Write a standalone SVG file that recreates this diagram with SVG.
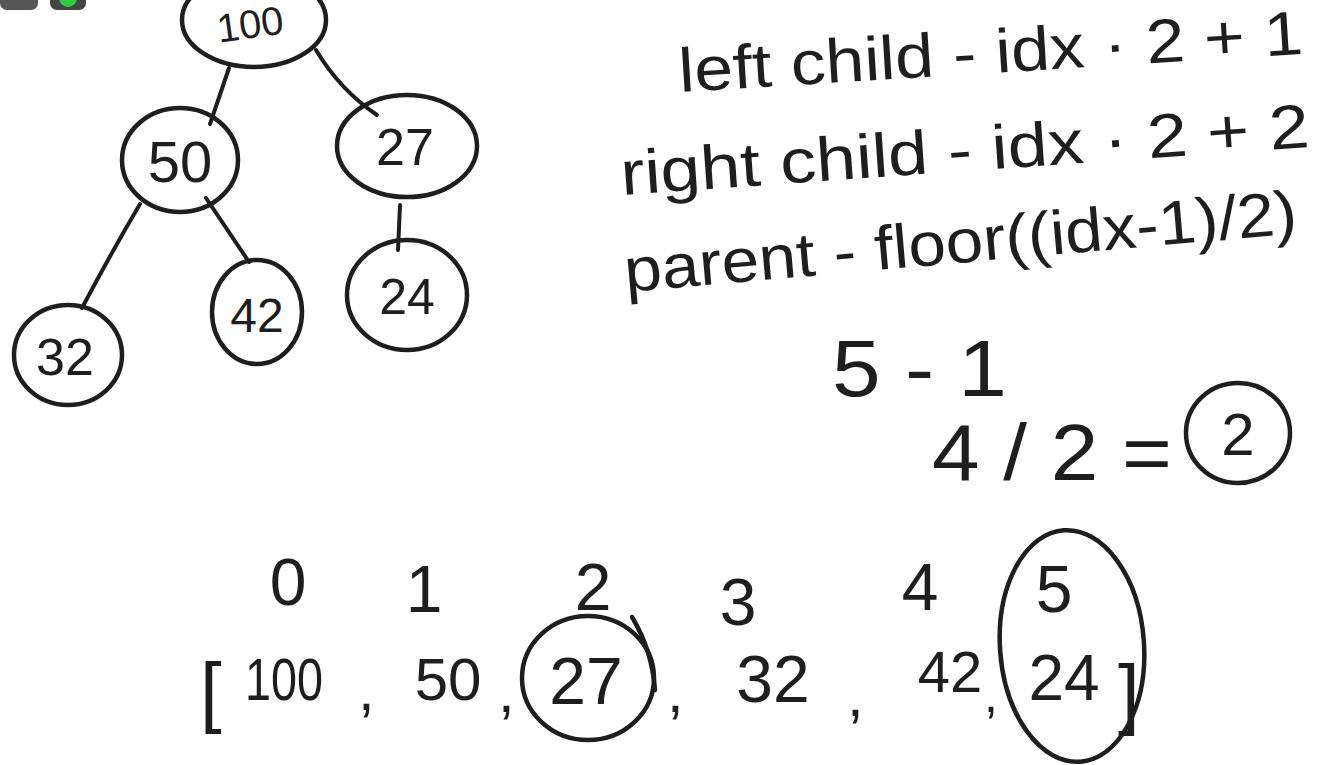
<svg xmlns="http://www.w3.org/2000/svg" width="1331" height="765" viewBox="0 0 1331 765">
<style>
.bg{fill:#ffffff}
.ring{fill:none;stroke:#1e1e1e;stroke-width:4.5;stroke-linecap:round}
.edge{fill:none;stroke:#1e1e1e;stroke-width:4;stroke-linecap:round}
.t{font-family:"Liberation Sans","DejaVu Sans",sans-serif;fill:#1e1e1e;font-weight:normal}
.n{text-anchor:middle}
</style>
<rect class="bg" x="0" y="0" width="1331" height="765"/>
<g id="window-buttons">
<rect x="0" y="-14" width="38" height="24" rx="7" fill="#555"/>
<rect x="50" y="-14" width="36" height="24" rx="7" fill="#444"/>
<circle cx="68" cy="-2" r="9" fill="#2ecc40"/>
</g>
<g id="connectors">
<path class="edge" d="M229,68 L210,124"/>
<path class="edge" d="M316,50 Q340,90 377,115"/>
<path class="edge" d="M140,204 Q110,255 82,308"/>
<path class="edge" d="M206,198 L249,262"/>
<path class="edge" d="M400,205 L398,250"/>
</g>
<g id="node-100">
<ellipse class="ring" cx="254" cy="20" rx="72" ry="47"/>
<text class="t n" x="252" y="38" font-size="40" transform="rotate(-8 252 38)">100</text>
</g>
<g id="node-50">
<ellipse class="ring" cx="180" cy="160" rx="58" ry="52"/>
<text class="t n" x="180" y="182" font-size="58">50</text>
</g>
<g id="node-27">
<ellipse class="ring" cx="407" cy="146" rx="70" ry="51"/>
<text class="t n" x="405" y="165" font-size="52">27</text>
</g>
<g id="node-32">
<ellipse class="ring" cx="68" cy="355" rx="54" ry="50"/>
<text class="t n" x="65" y="375" font-size="52">32</text>
</g>
<g id="node-42">
<ellipse class="ring" cx="257" cy="312" rx="45" ry="52"/>
<text class="t n" x="257" y="332" font-size="48">42</text>
</g>
<g id="node-24">
<ellipse class="ring" cx="407" cy="295" rx="60" ry="55"/>
<text class="t n" x="407" y="314" font-size="50">24</text>
</g>
<g id="formulas">
<text class="t" x="680" y="92" font-size="62" textLength="625" lengthAdjust="spacingAndGlyphs" transform="rotate(-3.5 680 92)">left child - idx · 2 + 1</text>
<text class="t" x="622" y="195" font-size="62" textLength="690" lengthAdjust="spacingAndGlyphs" transform="rotate(-4 622 195)">right child -  idx · 2 + 2</text>
<text class="t" x="626" y="292" font-size="62" textLength="675" lengthAdjust="spacingAndGlyphs" transform="rotate(-5 626 292)">parent - floor((idx-1)/2)</text>
</g>
<g id="calc">
<text class="t" x="832" y="396" font-size="80" textLength="175" lengthAdjust="spacingAndGlyphs">5 - 1</text>
<text class="t" x="932" y="480" font-size="80" textLength="240" lengthAdjust="spacingAndGlyphs">4 / 2 =</text>
</g>
<g id="result-2">
<ellipse class="ring" cx="1238" cy="433" rx="52" ry="50"/>
<text class="t n" x="1238" y="455" font-size="60">2</text>
</g>
<g id="indices">
<text class="t n" x="288" y="605" font-size="66">0</text>
<text class="t n" x="424" y="612" font-size="66">1</text>
<text class="t n" x="593" y="610" font-size="66">2</text>
<text class="t n" x="738" y="625" font-size="66">3</text>
<text class="t n" x="920" y="610" font-size="66">4</text>
<text class="t n" x="1054" y="612" font-size="66">5</text>
</g>
<g id="array">
<text class="t" x="200" y="718" font-size="78">[</text>
<text class="t" x="245" y="700" font-size="60" textLength="78" lengthAdjust="spacingAndGlyphs">100</text>
<text class="t" x="358" y="710" font-size="60">,</text>
<text class="t n" x="448" y="700" font-size="60">50</text>
<text class="t" x="498" y="712" font-size="60">,</text>
<text class="t n" x="586" y="704" font-size="66">27</text>
<text class="t" x="667" y="712" font-size="60">,</text>
<text class="t n" x="773" y="702" font-size="66">32</text>
<text class="t" x="847" y="716" font-size="60">,</text>
<text class="t n" x="950" y="692" font-size="58">42</text>
<text class="t" x="984" y="712" font-size="50">,</text>
<text class="t n" x="1064" y="700" font-size="64">24</text>
<text class="t" x="1118" y="720" font-size="78">]</text>
</g>
<g id="circle-27">
<ellipse class="ring" cx="588" cy="678" rx="66" ry="62"/>
<path class="ring" d="M632,617 Q652,650 655,690"/>
</g>
<g id="circle-5-24">
<ellipse class="ring" cx="1072" cy="646" rx="72" ry="116" transform="rotate(-4 1072 646)"/>
</g>
</svg>
